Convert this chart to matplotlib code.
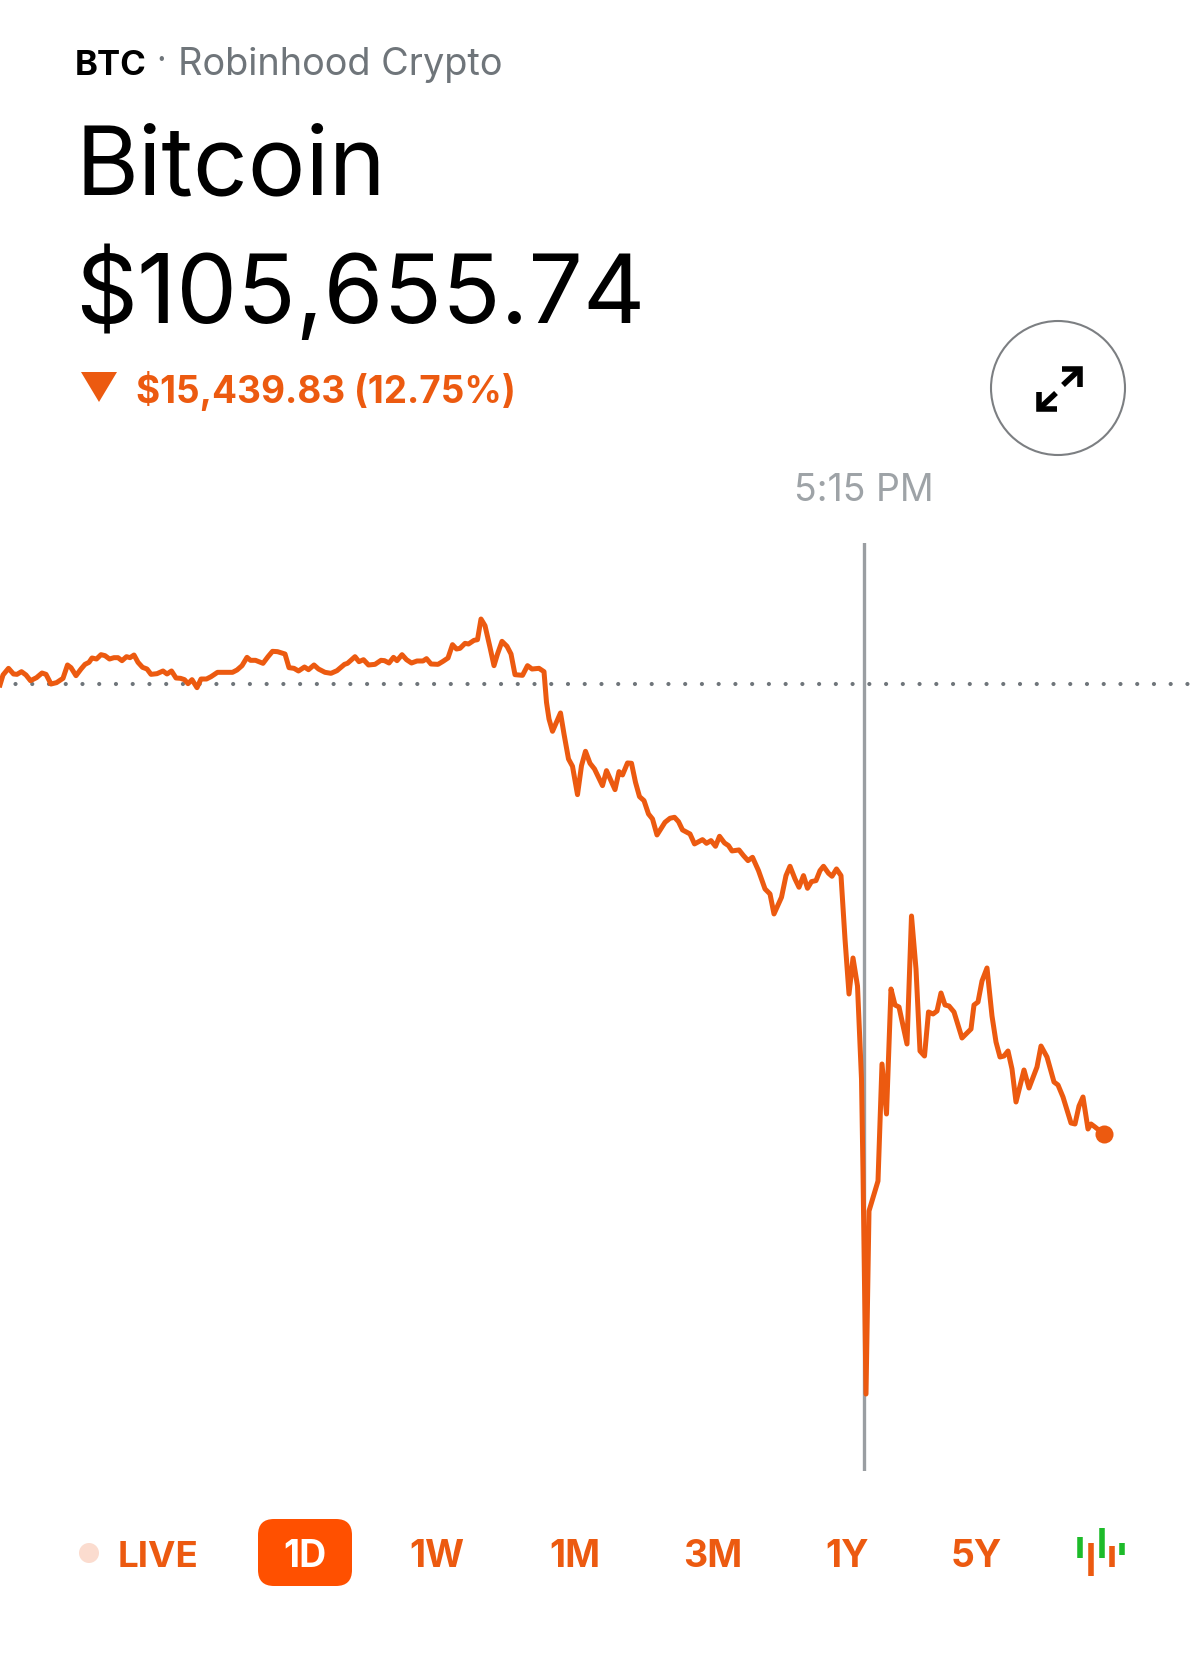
import matplotlib
matplotlib.use("Agg")
import matplotlib.pyplot as plt
from matplotlib.patches import Circle, FancyBboxPatch, Polygon

plt.rcParams['font.family'] = ['Inter', 'DejaVu Sans']

W, H = 1200, 1665
ORANGE = '#EC5A10'
BRIGHT = '#FF5000'
GREEN = '#1DBB2A'

hours = [0,.06,.17,.27,.34,.43,.52,.61,.73,.84,.92,1.02,1.13,1.26,1.35,1.42,1.52,1.62,1.70,1.78,1.84,1.93,2.02,2.10,2.19,2.28,2.36,2.44,2.53,2.60,2.68,2.76,2.85,2.94,3.02,3.14,3.26,3.34,3.43,3.52,3.61,3.69,3.76,3.84,3.94,4.02,4.13,4.22,4.35,4.52,4.65,4.74,4.84,4.94,5.01,5.11,5.26,5.36,5.45,5.55,5.70,5.78,5.88,5.97,6.09,6.17,6.28,6.37,6.50,6.62,6.74,6.89,6.95,7.10,7.18,7.27,7.37,7.50,7.62,7.69,7.78,7.87,7.94,8.04,8.13,8.23,8.34,8.46,8.53,8.62,8.76,8.86,8.96,9.05,9.13,9.20,9.30,9.37,9.48,9.55,9.62,9.70,9.80,9.88,9.95,10.04,10.14,10.22,10.30,10.45,10.55,10.64,10.78,
         10.88,10.93,10.98,11.05,11.21,11.28,11.37,11.45,11.55,11.63,11.71,11.80,11.89,12.05,12.13,12.30,12.38,12.45,12.55,12.63,12.71,12.79,12.88,12.97,13.05,13.14,13.30,13.40,13.49,13.57,13.65,13.80,13.89,14.05,14.13,14.22,14.31,14.39,14.49,14.57,14.64,14.78,14.87,14.96,15.05,15.17,15.30,15.40,15.48,15.63,15.72,15.80,15.90,15.98,16.07,16.15,16.23,16.32,16.40,16.47,16.57,16.64,16.73,16.82,
         16.90,16.98,17.06,17.15,17.23,17.26,17.32,17.38,17.56,17.64,17.73,17.82,17.90,17.98,18.14,18.23,18.32,18.40,18.49,18.57,18.66,18.74,18.82,18.90,18.98,19.08,19.24,19.34,19.42,19.48,19.56,19.64,19.74,19.84,19.92,20.00,20.08,20.16,20.24,20.32,20.48,20.58,20.74,20.82,20.94,21.08,21.16,21.26,21.42,21.50,21.58,21.66,21.76,21.82,21.90,22.08]

prices = [121062,121405,121633,121439,121427,121519,121405,121210,121313,121473,121427,121096,121142,121290,121748,121656,121382,121610,121770,121839,121988,121953,122102,122068,121953,121999,121999,121896,122033,121999,122090,121839,121668,121610,121427,121450,121542,121439,121542,121302,121290,121245,121107,121245,120970,121267,121267,121347,121496,121496,121496,121576,121725,122010,121908,121908,121805,122033,122216,122205,122125,121656,121633,121542,121679,121587,121748,121610,121496,121462,121553,121770,121805,122033,121862,121930,121748,121770,121908,121896,121816,122010,121896,122102,121930,121816,121885,121885,121965,121782,121770,121873,121988,122445,122296,122319,122490,122468,122593,122616,123325,123096,122353,121725,122125,122559,122388,122125,121416,121393,121725,121610,121633,
          121519,120467,119896,119473,120102,119381,118524,118273,117301,118296,118787,118376,118181,117610,118124,117473,118090,117976,118387,118376,117724,117233,117096,116638,116467,115918,116353,116490,116524,116375,116090,115952,115610,115758,115632,115724,115530,115872,115644,115552,115370,115404,115210,115038,115152,114695,114067,113895,113209,113781,114524,114844,114409,114124,114524,114089,114318,114352,114695,114844,114604,114501,114752,114524,
          112349,110463,111698,110737,107547,104358,96743,103020,104049,108062,106347,110634,110086,110017,108748,113138,111320,108508,108336,109846,109777,109880,110497,110086,110051,109846,108954,109125,109262,110086,110189,110909,111355,109708,108817,108302,108336,108508,107890,106759,107856,107239,107959,108679,108302,107445,107342,106930,106038,106004,106621,106930,105832,106004,105901,105656]

previous_close = 121096
cursor_hour = 17.28
cursor_label = '5:15 PM'
ranges = ['1D', '1W', '1M', '3M', '1Y', '5Y']

fig = plt.figure(figsize=(W / 100, H / 100), dpi=100, facecolor='white')

# chart axes: spans x 0-1200 px, y 544-1472 px
ax = fig.add_axes([0, 1 - 1472 / H, 1, (1472 - 544) / H])
ax.set_xlim(0, 24)
ax.set_ylim(94102, 125932)
ax.axis('off')
ax.axvline(cursor_hour, color='#9A9EA2', lw=2.4, zorder=1)
ax.axhline(previous_close, color='#6F757A', lw=3.0, zorder=1,
           linestyle=(0.3, (0.01, 4.008)), dash_capstyle='round')
ax.plot(hours, prices, color=ORANGE, lw=3.6, solid_joinstyle='round', zorder=2)
ax.plot(hours[-1], prices[-1], 'o', color=ORANGE, ms=13, mec='none', zorder=3)

# interface overlay in pixel coordinates
ui = fig.add_axes([0, 0, 1, 1], facecolor='none')
ui.set_xlim(0, W)
ui.set_ylim(H, 0)
ui.axis('off')

ui.text(75, 75, 'BTC', fontsize=25, fontweight='bold', color='black', va='baseline')
ui.text(156, 71, '·', fontsize=24, color='#6F757A', va='baseline')
ui.text(178, 75, 'Robinhood Crypto', fontsize=27.3, color='#6F757A', va='baseline')
ui.text(76, 194, 'Bitcoin', fontsize=69.3, color='black', va='baseline')
ui.text(75, 323, '$105,655.74', fontsize=69.5, color='black', va='baseline')
ui.add_patch(Polygon([(81, 373), (117, 373), (99, 403)], closed=True, fc=ORANGE, ec='none'))
ui.text(136, 403, '$15,439.83 (12.75%)', fontsize=26.6, fontweight='bold', color=ORANGE, va='baseline')

ui.add_patch(Circle((1058, 389), 67, fc='white', ec='#7C7F82', lw=1.5))
ui.plot([1062, 1080, 1080], [370, 370, 388], color='black', lw=4, solid_joinstyle='miter', solid_capstyle='butt')
ui.plot([1063, 1079], [386, 371], color='black', lw=4, solid_capstyle='butt')
ui.plot([1039, 1039, 1057], [393, 410, 410], color='black', lw=4, solid_joinstyle='miter', solid_capstyle='butt')
ui.plot([1040, 1056], [409, 394], color='black', lw=4, solid_capstyle='butt')

ui.text(864, 501, cursor_label, fontsize=27, color='#9EA3A7', ha='center', va='baseline')

# range selector
ui.add_patch(Circle((89, 1554), 10, fc='#FBDCCF', ec='none'))
ui.text(118, 1567, 'LIVE', fontsize=26.5, fontweight='bold', color=ORANGE, va='baseline')
ui.add_patch(FancyBboxPatch((272, 1534), 66, 39, boxstyle='round,pad=14,rounding_size=16', fc=BRIGHT, ec='none'))
for label, xc in zip(ranges, [305, 437, 574.5, 712.5, 847, 976]):
    ui.text(xc, 1567, label, fontsize=27, fontweight='bold',
            color='white' if label == '1D' else ORANGE, ha='center', va='baseline')
for xc, y0, y1, c in [(1080, 1538, 1559, GREEN), (1091, 1544, 1577, ORANGE), (1101.5, 1529, 1559, GREEN),
                      (1112, 1547, 1568, ORANGE), (1122, 1544, 1556, GREEN)]:
    ui.plot([xc, xc], [y0, y1], color=c, lw=4, solid_capstyle='butt')

fig.savefig('out.png', dpi=100, facecolor='white')
